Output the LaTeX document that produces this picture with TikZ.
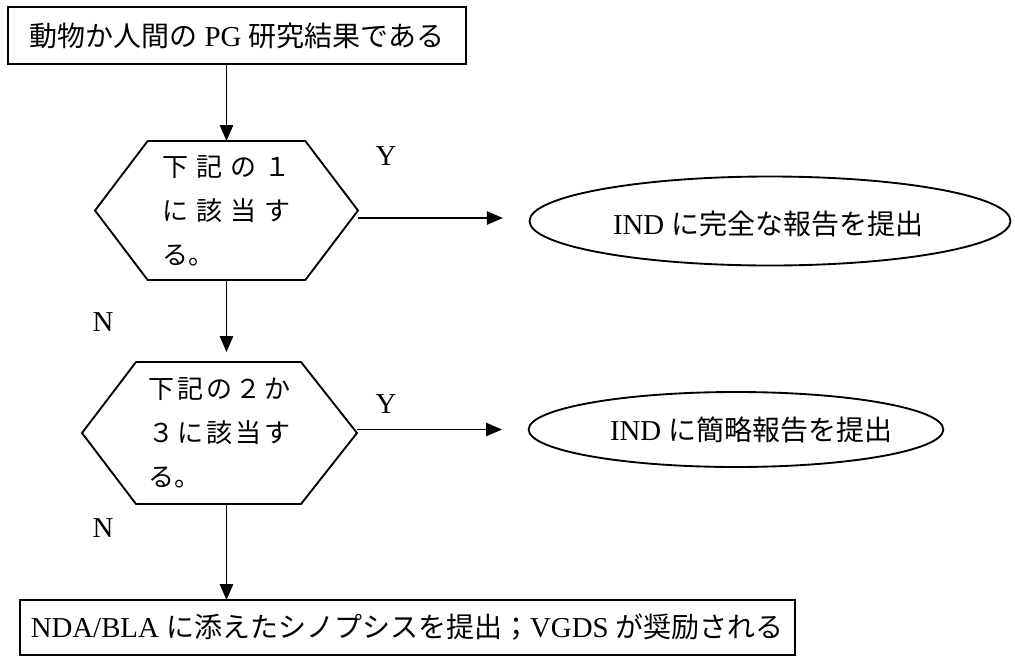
\documentclass[tikz,border=0pt]{standalone}
\usepackage{fontspec}
\setmainfont{Liberation Serif}[Scale=1.03]
\newfontfamily\jp{Noto Sans CJK JP}
\newcommand\J[1]{{\jp #1}}
\usetikzlibrary{arrows.meta,shapes.geometric,calc}
\begin{document}
\begin{tikzpicture}[x=0.75pt,y=-0.75pt,
  line width=1.4pt,
  >={Triangle[length=12pt,width=10pt]},
  every node/.style={inner sep=0pt, outer sep=0pt},
  txt/.style={font=\fontsize{21}{24}\selectfont},
  hextxt/.style={font=\fontsize{19.5}{33}\selectfont, align=left},
  yn/.style={font=\fontsize{21}{22}\selectfont},
  boxnode/.style={draw, line width=1.4pt, txt},
  ell/.style={draw, ellipse, line width=1.4pt}
]
\useasboundingbox (0,0) rectangle (1015,658);

% top box
\node[boxnode, minimum width=343.5pt, minimum height=42.75pt] (top) at (237,35.5)
  {\J{動物か人間の} PG \J{研究結果である}};

% hexagon 1
\node[hextxt, minimum width=197.25pt, minimum height=104.25pt] (h1) at (226.5,210.5)
  {\makebox[96pt][s]{\J{下}\hfill\J{記}\hfill\J{の}\hfill\J{１}}\\
   \makebox[96pt][s]{\J{に}\hfill\J{該}\hfill\J{当}\hfill\J{す}}\\
   \J{る。}};
\draw (h1.west) -- ([xshift=39.5pt]h1.north west) -- ([xshift=-39.5pt]h1.north east)
  -- (h1.east) -- ([xshift=-39.5pt]h1.south east) -- ([xshift=39.5pt]h1.south west) -- cycle;

% hexagon 2
\node[hextxt, minimum width=206.25pt, minimum height=106.5pt] (h2) at (219.5,433)
  {\makebox[106pt][s]{\J{下}\hfill\J{記}\hfill\J{の}\hfill\J{２}\hfill\J{か}}\\
   \makebox[106pt][s]{\J{３}\hfill\J{に}\hfill\J{該}\hfill\J{当}\hfill\J{す}}\\
   \J{る。}};
\draw (h2.west) -- ([xshift=40.5pt]h2.north west) -- ([xshift=-42pt]h2.north east)
  -- (h2.east) -- ([xshift=-42pt]h2.south east) -- ([xshift=40.5pt]h2.south west) -- cycle;

% ellipses
\node[ell, minimum width=360.75pt, minimum height=66.75pt] (e1) at (770,221)
  {};
\node[txt, anchor=west] (t1) at (613,224) {IND \J{に完全な報告を提出}};
\node[ell, minimum width=311pt, minimum height=56.25pt] (e2) at (736,429.5)
  {};
\node[txt, anchor=west] (t2) at (610,430) {IND \J{に簡略報告を提出}};

% bottom box
\node[boxnode, anchor=north west, minimum width=581pt, minimum height=41.25pt] (bot) at (20,600)
  {NDA/BLA \J{に添えたシノプシスを提出；}VGDS \J{が奨励される}};

% labels
\node[yn] (y1) at (386,156) {Y};
\node[yn] (y2) at (386,404) {Y};
\node[yn] (n1) at (103,322) {N};
\node[yn] (n2) at (103,528) {N};

% connectors
\draw[->] (h1.north |- top.south) -- (h1.north);
\draw[->] (h1.south) -- ([yshift=7.5pt]h1.south |- h2.north);
\draw[->] (h1.south |- h2.south) -- (h1.south |- bot.north);
\draw[->] (h1.east |- 0,218) -- ([xshift=-20pt]e1.west |- 0,218);
\draw[->] (h2.east |- e2.west) -- ([xshift=-20pt]e2.west);
\end{tikzpicture}
\end{document}
